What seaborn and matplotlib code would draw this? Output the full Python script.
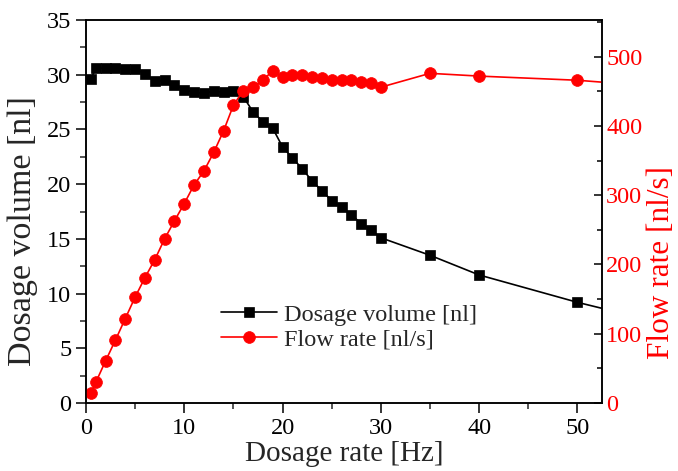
import matplotlib
matplotlib.use("Agg")
import matplotlib.pyplot as plt
from matplotlib.ticker import MultipleLocator
import seaborn as sns

# Dosage rate [Hz]
rate = [0.5, 1, 2, 3, 4, 5, 6, 7, 8, 9, 10, 11, 12, 13, 14, 15, 16, 17, 18, 19,
        20, 21, 22, 23, 24, 25, 26, 27, 28, 29, 30, 35, 40, 50, 60]
# Dosage volume [nl]
volume = [29.6, 30.6, 30.6, 30.6, 30.5, 30.5, 30.1, 29.4, 29.5, 29.1, 28.6, 28.4,
          28.3, 28.5, 28.4, 28.5, 28.0, 26.6, 25.7, 25.1, 23.4, 22.4, 21.4, 20.3,
          19.4, 18.5, 17.9, 17.2, 16.4, 15.8, 15.1, 13.5, 11.7, 9.2, 7.0]
# Flow rate [nl/s]
flow = [14, 30, 61, 91, 122, 153, 181, 207, 237, 263, 288, 315, 335, 362, 393,
        430, 451, 456, 466, 480, 470, 473, 474, 470, 469, 466, 467, 466, 463, 462,
        456, 476, 472, 466, 455]

sns.set_style("ticks")
plt.rcParams["font.family"] = ["Liberation Serif", "DejaVu Serif"]

red = "#ff0000"

fig = plt.figure(figsize=(6.78, 4.71), dpi=100)
ax = fig.add_axes([86 / 678, 68 / 471, 516 / 678, 383 / 471])
ax2 = ax.twinx()

sns.lineplot(x=rate, y=volume, ax=ax, color="black", marker="s", markersize=6.5,
             markeredgecolor="black", markeredgewidth=0.5, linewidth=1.2,
             label="Dosage volume [nl]", legend=False)
sns.lineplot(x=rate, y=flow, ax=ax2, color=red, marker="o", markersize=8.5,
             markeredgecolor=red, markeredgewidth=0.5, linewidth=1.2,
             label="Flow rate [nl/s]", legend=False)

ax.set_xlim(0, 52.5)
ax.set_ylim(0, 35)
ax2.set_ylim(0, 553)

ax.xaxis.set_major_locator(MultipleLocator(10))
ax.xaxis.set_minor_locator(MultipleLocator(5))
ax.yaxis.set_major_locator(MultipleLocator(5))
ax.yaxis.set_minor_locator(MultipleLocator(2.5))
ax2.yaxis.set_major_locator(MultipleLocator(100))
ax2.yaxis.set_minor_locator(MultipleLocator(50))

for a in (ax, ax2):
    for s in a.spines.values():
        s.set_visible(True)
        s.set_linewidth(1.1)
        s.set_color("black")

ax.tick_params(axis="both", which="major", direction="out", length=7, width=1.1,
               labelsize=17.5, colors="black", top=False, right=False)
ax.tick_params(axis="both", which="minor", direction="out", length=4, width=1.1,
               top=False, right=False)
ax2.tick_params(axis="y", which="major", direction="in", length=6, width=1.1,
                labelsize=17.5, labelcolor=red, color="black", pad=3)
ax2.tick_params(axis="y", which="minor", direction="in", length=3.5, width=1.1,
                color="black")

ax.set_xlabel("Dosage rate [Hz]", fontsize=21, labelpad=2)
ax.set_ylabel("Dosage volume [nl]", fontsize=24.5)
ax.yaxis.set_label_coords(-0.093, 0.449)
ax2.set_ylabel("Flow rate [nl/s]", fontsize=22.5, color=red)
ax2.yaxis.set_label_coords(1.087, 0.366)

h1, l1 = ax.get_legend_handles_labels()
h2, l2 = ax2.get_legend_handles_labels()
ax2.legend(h1 + h2, l1 + l2, loc="center left", bbox_to_anchor=(0.262, 0.198),
           frameon=False, fontsize=17.5, handlelength=2.3, handletextpad=0.3,
           labelspacing=0.12, borderpad=0, borderaxespad=0, numpoints=1)

fig.savefig("out.png", dpi=100)
